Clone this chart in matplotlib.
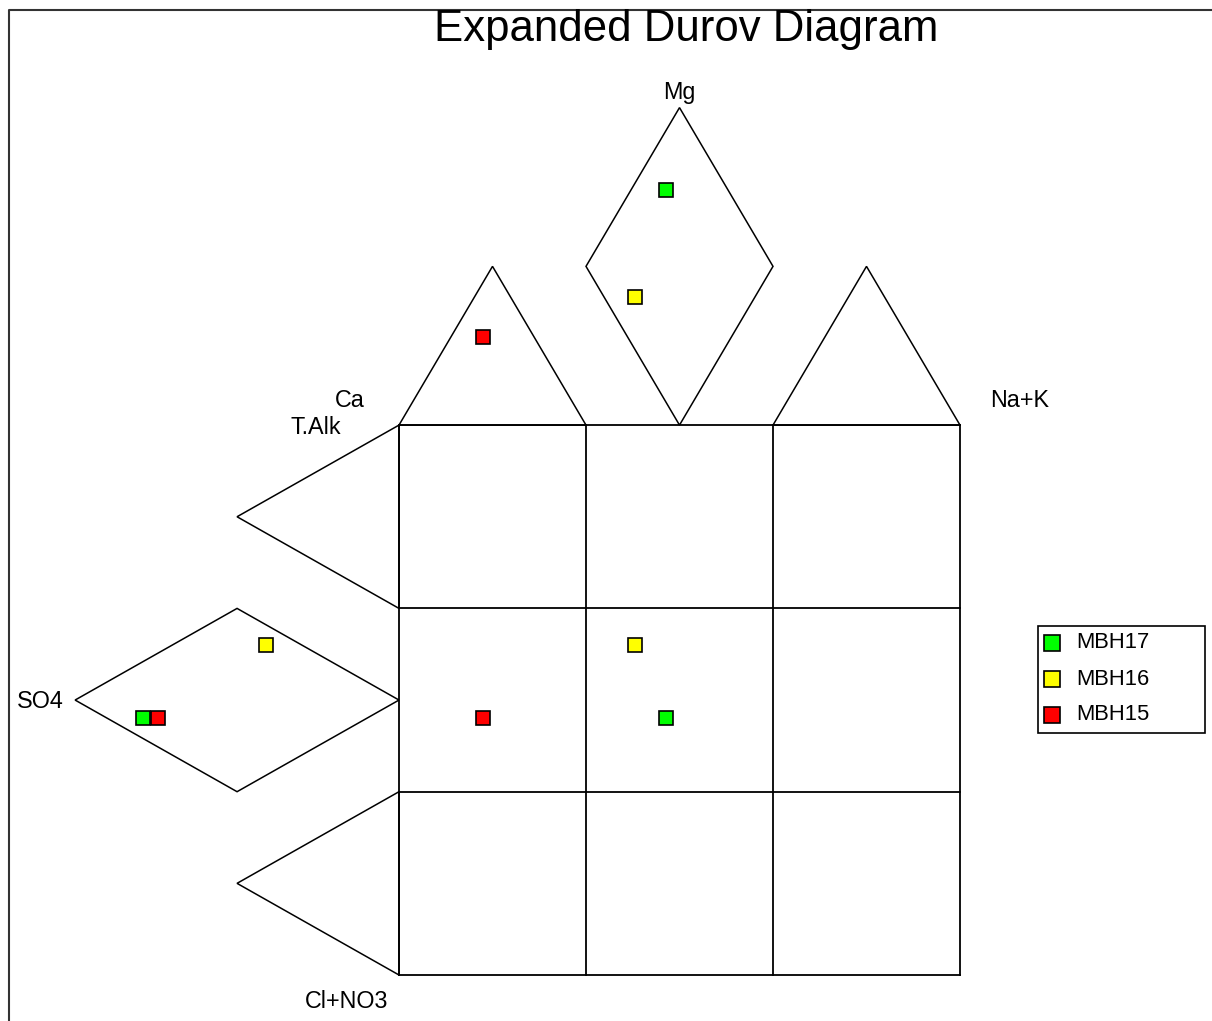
import numpy as np
import matplotlib
matplotlib.use('Agg')
import matplotlib.pyplot as plt
from matplotlib.lines import Line2D
from matplotlib.patches import Polygon, Rectangle

plt.rcParams['font.family'] = ['Liberation Sans', 'DejaVu Sans']

# sample data (diagram units: central square is 3 x 3)
samples = ['MBH17', 'MBH16', 'MBH15']
colors = ['#00FF00', '#FFFF00', '#FF0000']
cation_x = [1.43, 1.26, 0.45]       # position across the square (cations)
anion_y = [1.40, 1.80, 1.40]        # position up the square (anions)
cation_top_y = [4.28, 3.70, 3.48]   # point in the upper cation triangles / diamond
anion_left_x = [-1.37, -0.71, -1.29]  # point in the left anion triangles / diamond

W, H = 1212, 1021
fig = plt.figure(figsize=(W / 100, H / 100), dpi=100)
ax = fig.add_axes([0, 0, 1, 1])
ax.set_xlim(-399 / 187, (W - 399) / 187)
ax.set_ylim((975 - H) / 183.3, 975 / 183.3)
ax.axis('off')

h = np.sqrt(3) / 2
lw = 1.3

# central 3x3 square
for k in range(4):
    ax.plot([k, k], [0, 3], color='black', lw=lw)
    ax.plot([0, 3], [k, k], color='black', lw=lw)

# upper shapes
shapes = [
    [(0, 3), (0.5, 3 + h), (1, 3)],
    [(2, 3), (2.5, 3 + h), (3, 3)],
    [(1.5, 3), (1, 3 + h), (1.5, 3 + 2 * h), (2, 3 + h)],
    # left shapes
    [(0, 3), (-h, 2.5), (0, 2)],
    [(0, 1.5), (-h, 2), (-2 * h, 1.5), (-h, 1)],
    [(0, 1), (-h, 0.5), (0, 0)],
]
for s in shapes:
    ax.add_patch(Polygon(s, closed=True, fill=False, edgecolor='black', lw=1.1))

# points
ms = 10
for name, c, x, y, ty, lx in zip(samples, colors, cation_x, anion_y, cation_top_y, anion_left_x):
    kw = dict(marker='s', ls='', markersize=ms, markerfacecolor=c,
              markeredgecolor='black', markeredgewidth=1.2, zorder=5)
    ax.plot([x], [y], **kw)
    ax.plot([x], [ty], **kw)
    ax.plot([lx], [y], **kw)

def ftext(x, y, s, **kw):
    fig.text(x / W, 1 - y / H, s, **kw)

fs = 16.8
ftext(686, 29, 'Expanded Durov Diagram', fontsize=31.5, ha='center', va='center')
ftext(679, 92, 'Mg', fontsize=fs, ha='center', va='center')
ftext(350, 400, 'Ca', fontsize=fs, ha='center', va='center')
ftext(316, 427, 'T.Alk', fontsize=fs, ha='center', va='center')
ftext(1020, 400, 'Na+K', fontsize=fs, ha='center', va='center')
ftext(40, 701, 'SO4', fontsize=fs, ha='center', va='center')
ftext(347, 1001, 'Cl+NO3', fontsize=fs, ha='center', va='center')

# legend box
fig.add_artist(Rectangle((1038 / W, 1 - 733 / H), (1205 - 1038) / W, (733 - 626) / H,
                         transform=fig.transFigure, fill=False, edgecolor='black', lw=1.2))
for i, (name, c) in enumerate(zip(samples, colors)):
    yy = 643 + i * 36
    fig.add_artist(Line2D([1052 / W], [1 - yy / H], transform=fig.transFigure,
                          marker='s', ls='', markersize=11, markerfacecolor=c,
                          markeredgecolor='black', markeredgewidth=1.2))
    ftext(1076, yy, name, fontsize=15.8, ha='left', va='center')

# outer frame (left and top edges visible)
fig.add_artist(Line2D([8.5 / W, 8.5 / W, 1.0], [0, 1 - 10.5 / H, 1 - 10.5 / H],
                      transform=fig.transFigure, color='#333333', lw=1.5))

fig.savefig('out.png', dpi=100)
